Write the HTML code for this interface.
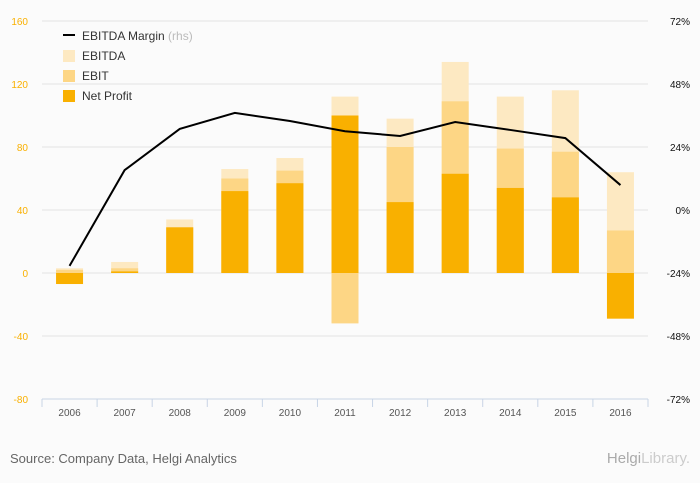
<!DOCTYPE html>
<html><head><meta charset="utf-8"><style>
body{margin:0;background:#fbfbfb;font-family:"Liberation Sans",sans-serif;overflow:hidden;}
svg{display:block;}
svg text{font-family:"Liberation Sans",sans-serif;}
</style></head><body>
<svg id="chart" width="700" height="483" xmlns="http://www.w3.org/2000/svg">
<rect width="700" height="483" fill="#fbfbfb"/>
<g id="grid"></g>
<g id="bars"></g>
<g id="axes"></g>
<g id="line"></g>
<g>
  <g><line x1="63" y1="35" x2="75" y2="35" stroke="#000" stroke-width="2"/><text x="82" y="40" font-size="12" fill="#333">EBITDA Margin <tspan fill="#bbb">(rhs)</tspan></text></g>
  <g><rect x="63" y="50" width="12" height="12" fill="#fde9c2"/><text x="82" y="60" font-size="12" fill="#333">EBITDA</text></g>
  <g><rect x="63" y="70" width="12" height="12" fill="#fdd685"/><text x="82" y="80" font-size="12" fill="#333">EBIT</text></g>
  <g><rect x="63" y="90" width="12" height="12" fill="#f9b000"/><text x="82" y="100" font-size="12" fill="#333">Net Profit</text></g>
</g>
<text x="10" y="463" font-size="13" fill="#666">Source: Company Data, Helgi Analytics</text>
<text x="690" y="463" font-size="15" fill="#aaa" text-anchor="end" font-family="Liberation Serif">Helgi<tspan fill="#ccc">Library.</tspan></text>
</svg>
<script>
const categories=["2006","2007","2008","2009","2010","2011","2012","2013","2014","2015","2016"];
const ebitda=[3,7,34,66,73,112,98,134,112,116,64];
const ebit=[2,3,29,60,65,-32,80,109,79,77,27];
const netProfit=[-7,1,29,52,57,100,45,63,54,48,-29];
const margin=[-21.3,15.2,30.9,37,33.9,30,28.2,33.5,30.5,27.4,9.5];
const leftTicks=[160,120,80,40,0,-40,-80];
const rightTicks=["72%","48%","24%","0%","-24%","-48%","-72%"];
const NS="http://www.w3.org/2000/svg";
const plotLeft=42,plotRight=648,plotTop=21,plotBot=399;
const band=(plotRight-plotLeft)/categories.length;
const yL=v=>plotTop+(160-v)/240*(plotBot-plotTop);
const yR=v=>plotTop+(72-v)/144*(plotBot-plotTop);
const xC=i=>plotLeft+band*(i+0.5);
function mk(t,a,p){const e=document.createElementNS(NS,t);for(const k in a)e.setAttribute(k,a[k]);p.appendChild(e);return e;}
const grid=document.getElementById('grid'),axes=document.getElementById('axes'),bars=document.getElementById('bars'),line=document.getElementById('line');
leftTicks.forEach((v,i)=>{
  const g=mk('line',{x1:plotLeft,x2:plotRight,y1:yL(v),y2:yL(v),stroke:'#e3e3e3','stroke-width':1},grid);
  
  
  const t=mk('text',{x:28,y:yL(v)+4,'font-size':10,fill:'#f9b000','text-anchor':'end'},axes);
  t.textContent=v;
  
  
  const r=mk('text',{x:690,y:yL(v)+4,'font-size':10,fill:'#111','text-anchor':'end'},axes);
  r.textContent=rightTicks[i];
  
  
});
const ax=mk('line',{x1:plotLeft,x2:plotRight,y1:plotBot,y2:plotBot,stroke:'#c8d4e6'},axes);


for(let i=0;i<=categories.length;i++){
  const tk=mk('line',{x1:plotLeft+band*i,x2:plotLeft+band*i,y1:plotBot,y2:plotBot+8,stroke:'#c8d4e6'},axes);
  
  
}
const bw=27;
function bar(v,c,name,i){
  const y=Math.min(yL(0),yL(v)),h=Math.abs(yL(v)-yL(0));
  const r=mk('rect',{x:xC(i)-bw/2,y:y,width:bw,height:h,fill:c},bars);
  
  
}
categories.forEach((c,i)=>{
  bar(ebitda[i],'#fde9c2','bar-ebitda-'+c,i);
  bar(ebit[i],'#fdd685','bar-ebit-'+c,i);
  bar(netProfit[i],'#f9b000','bar-net-profit-'+c,i);
  const t=mk('text',{x:xC(i),y:plotBot+17,'font-size':10,fill:'#555','text-anchor':'middle'},axes);
  t.textContent=c;
  
  
});
const p=mk('polyline',{points:margin.map((v,i)=>xC(i)+','+yR(v)).join(' '),fill:'none',stroke:'#000','stroke-width':2},line);


</script>
</body></html>
